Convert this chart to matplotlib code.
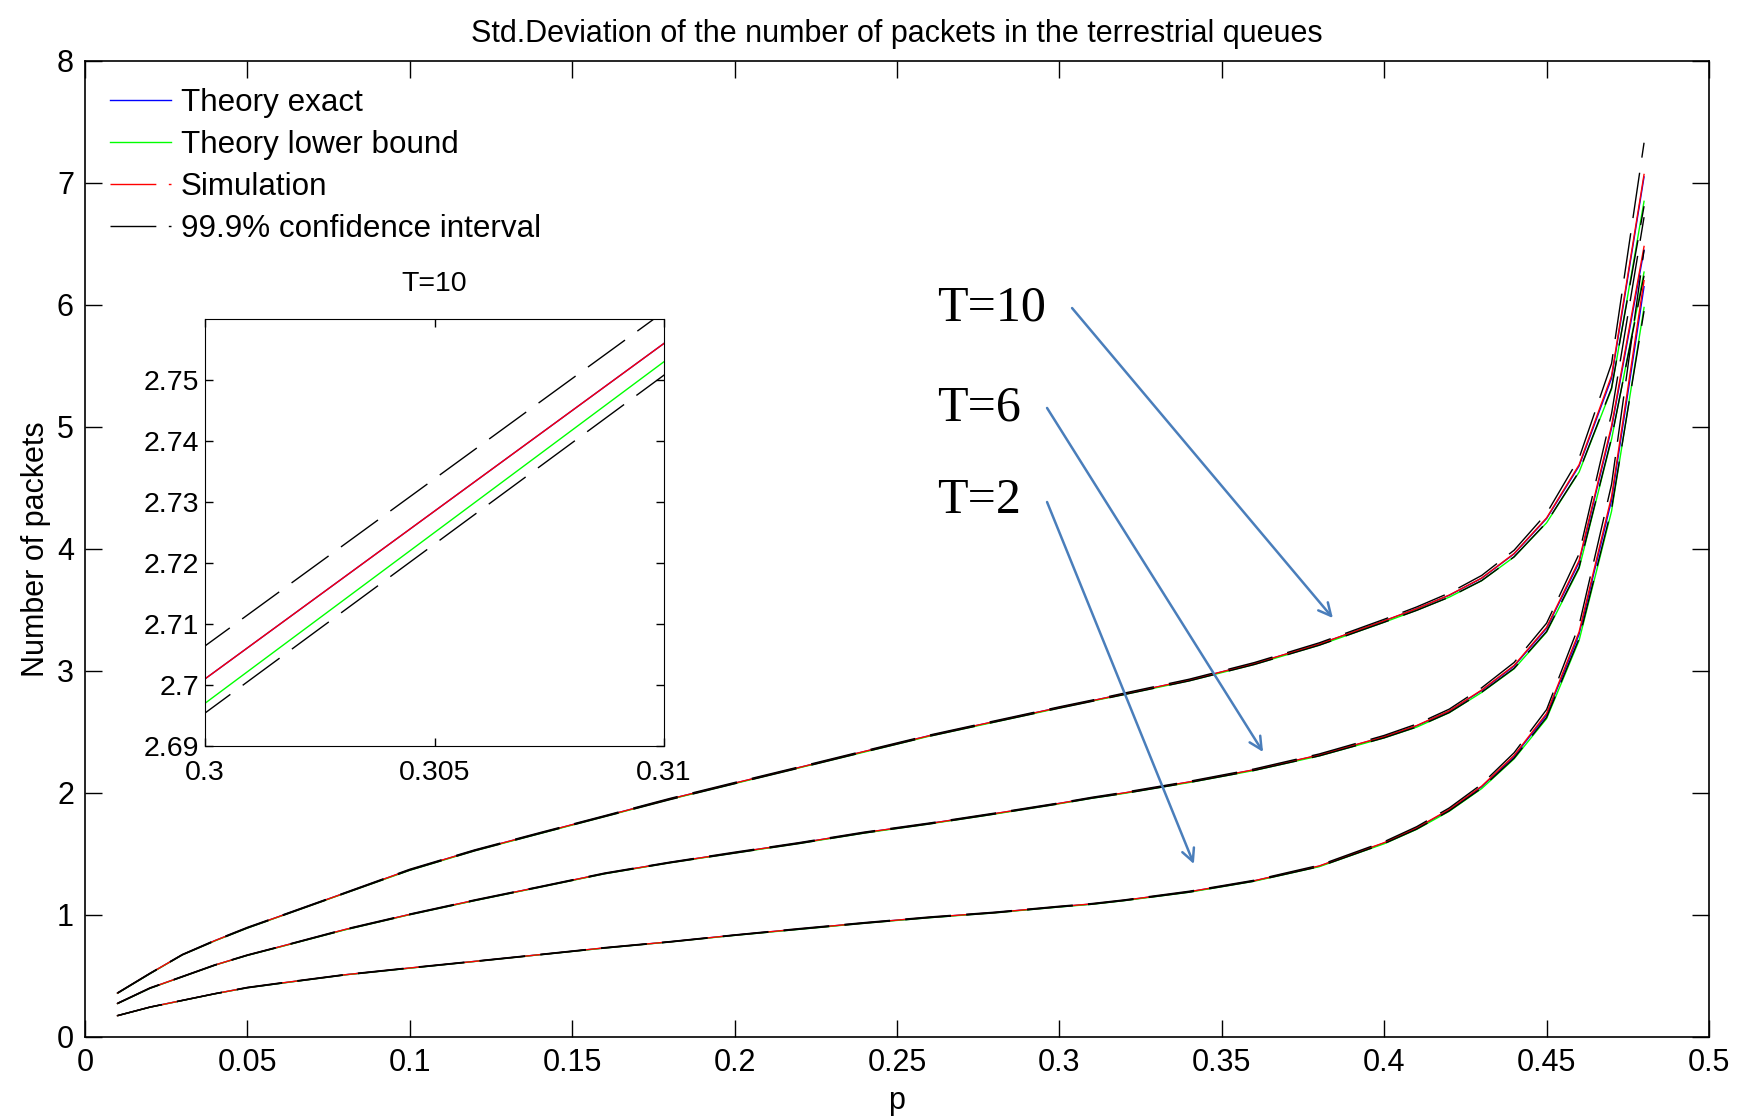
import matplotlib
matplotlib.use("Agg")
import matplotlib.pyplot as plt
from matplotlib.lines import Line2D

plt.rcParams['font.family'] = ['Liberation Sans', 'DejaVu Sans']
plt.rcParams['lines.scale_dashes'] = False

# === DATA ===
p = [0.01, 0.02, 0.03, 0.04, 0.05, 0.06, 0.08, 0.10, 0.12, 0.14, 0.16, 0.18,
     0.20, 0.22, 0.24, 0.26, 0.28, 0.30, 0.31, 0.32, 0.34, 0.36, 0.38, 0.40,
     0.41, 0.42, 0.43, 0.44, 0.45, 0.46, 0.47, 0.48]

# T=10
exact10 = [0.360, 0.520, 0.675, 0.790, 0.895, 0.990, 1.180, 1.370, 1.530, 1.670, 1.810, 1.950,
           2.080, 2.210, 2.340, 2.470, 2.585, 2.701, 2.756, 2.812, 2.925, 3.060, 3.220, 3.410,
           3.510, 3.620, 3.760, 3.960, 4.250, 4.680, 5.400, 7.050]
lower10 = [0.359, 0.519, 0.674, 0.788, 0.893, 0.988, 1.178, 1.367, 1.527, 1.667, 1.807, 1.947,
           2.077, 2.207, 2.336, 2.466, 2.581, 2.697, 2.753, 2.808, 2.920, 3.054, 3.212, 3.400,
           3.498, 3.605, 3.740, 3.935, 4.215, 4.630, 5.310, 6.850]
sim10 = [0.360, 0.521, 0.675, 0.790, 0.896, 0.990, 1.180, 1.371, 1.530, 1.671, 1.810, 1.950,
         2.081, 2.210, 2.341, 2.470, 2.586, 2.701, 2.756, 2.813, 2.926, 3.061, 3.221, 3.412,
         3.511, 3.622, 3.762, 3.963, 4.255, 4.690, 5.420, 7.070]
ci_hi10 = [0.362, 0.523, 0.677, 0.793, 0.899, 0.993, 1.183, 1.375, 1.534, 1.675, 1.814, 1.955,
           2.086, 2.215, 2.346, 2.475, 2.591, 2.7064, 2.7612, 2.819, 2.933, 3.069, 3.231, 3.424,
           3.525, 3.639, 3.783, 3.990, 4.292, 4.745, 5.520, 7.330]
ci_lo10 = [0.358, 0.519, 0.673, 0.787, 0.893, 0.987, 1.177, 1.367, 1.526, 1.667, 1.806, 1.945,
           2.076, 2.205, 2.336, 2.465, 2.581, 2.6954, 2.7508, 2.807, 2.919, 3.053, 3.211, 3.400,
           3.497, 3.605, 3.741, 3.936, 4.218, 4.635, 5.320, 6.810]

# T=6
exact6 = [0.275, 0.400, 0.495, 0.590, 0.670, 0.740, 0.880, 1.005, 1.120, 1.230, 1.340, 1.430,
          1.510, 1.590, 1.675, 1.750, 1.830, 1.915, 1.960, 2.000, 2.090, 2.190, 2.310, 2.460,
          2.550, 2.670, 2.840, 3.040, 3.350, 3.890, 4.990, 6.450]
lower6 = [0.274, 0.399, 0.494, 0.589, 0.669, 0.738, 0.878, 1.003, 1.118, 1.228, 1.338, 1.428,
          1.508, 1.587, 1.672, 1.747, 1.827, 1.912, 1.957, 1.997, 2.086, 2.185, 2.304, 2.452,
          2.540, 2.658, 2.824, 3.018, 3.318, 3.840, 4.900, 6.270]
sim6 = [0.275, 0.401, 0.495, 0.590, 0.671, 0.740, 0.881, 1.005, 1.121, 1.230, 1.341, 1.430,
        1.511, 1.590, 1.676, 1.750, 1.831, 1.915, 1.961, 2.001, 2.091, 2.191, 2.312, 2.462,
        2.553, 2.673, 2.844, 3.046, 3.358, 3.905, 5.010, 6.480]
ci_hi6 = [0.277, 0.403, 0.497, 0.592, 0.673, 0.742, 0.884, 1.008, 1.124, 1.233, 1.344, 1.433,
          1.515, 1.594, 1.680, 1.754, 1.835, 1.919, 1.965, 2.006, 2.096, 2.197, 2.320, 2.472,
          2.565, 2.687, 2.862, 3.070, 3.392, 3.960, 5.110, 6.720]
ci_lo6 = [0.273, 0.399, 0.493, 0.588, 0.669, 0.738, 0.878, 1.002, 1.118, 1.227, 1.338, 1.427,
          1.507, 1.586, 1.672, 1.746, 1.827, 1.911, 1.957, 1.996, 2.086, 2.185, 2.304, 2.452,
          2.541, 2.659, 2.826, 3.022, 3.324, 3.850, 4.910, 6.240]

# T=2
exact2 = [0.175, 0.245, 0.300, 0.355, 0.405, 0.440, 0.510, 0.565, 0.620, 0.675, 0.730, 0.780,
          0.835, 0.885, 0.935, 0.980, 1.020, 1.068, 1.090, 1.120, 1.190, 1.280, 1.400, 1.590,
          1.710, 1.860, 2.050, 2.300, 2.640, 3.300, 4.400, 6.150]
lower2 = [0.175, 0.244, 0.299, 0.354, 0.404, 0.439, 0.509, 0.564, 0.619, 0.674, 0.729, 0.779,
          0.833, 0.883, 0.933, 0.978, 1.018, 1.066, 1.088, 1.118, 1.187, 1.277, 1.396, 1.584,
          1.702, 1.850, 2.036, 2.280, 2.610, 3.250, 4.310, 5.980]
sim2 = [0.175, 0.245, 0.300, 0.355, 0.405, 0.441, 0.510, 0.566, 0.620, 0.675, 0.731, 0.780,
        0.835, 0.886, 0.935, 0.981, 1.020, 1.069, 1.091, 1.121, 1.191, 1.281, 1.402, 1.593,
        1.714, 1.865, 2.056, 2.308, 2.652, 3.320, 4.430, 6.200]
ci_hi2 = [0.176, 0.246, 0.301, 0.356, 0.407, 0.443, 0.512, 0.568, 0.622, 0.677, 0.733, 0.782,
          0.837, 0.889, 0.938, 0.984, 1.023, 1.072, 1.094, 1.124, 1.195, 1.285, 1.408, 1.601,
          1.724, 1.877, 2.072, 2.330, 2.684, 3.375, 4.530, 6.450]
ci_lo2 = [0.174, 0.244, 0.299, 0.354, 0.403, 0.439, 0.508, 0.564, 0.618, 0.673, 0.729, 0.778,
          0.833, 0.883, 0.932, 0.978, 1.017, 1.066, 1.088, 1.118, 1.187, 1.277, 1.396, 1.585,
          1.704, 1.853, 2.040, 2.286, 2.620, 3.265, 4.330, 5.950]

curves = {
    "T=10": (exact10, lower10, sim10, ci_lo10, ci_hi10),
    "T=6": (exact6, lower6, sim6, ci_lo6, ci_hi6),
    "T=2": (exact2, lower2, sim2, ci_lo2, ci_hi2),
}

x_ticks = [0, 0.05, 0.1, 0.15, 0.2, 0.25, 0.3, 0.35, 0.4, 0.45, 0.5]
x_ticklabels = ["0", "0.05", "0.1", "0.15", "0.2", "0.25", "0.3", "0.35", "0.4", "0.45", "0.5"]
y_ticks = [0, 1, 2, 3, 4, 5, 6, 7, 8]
inset_xticks = [0.3, 0.305, 0.31]
inset_xticklabels = ["0.3", "0.305", "0.31"]
inset_yticks = [2.69, 2.70, 2.71, 2.72, 2.73, 2.74, 2.75]
inset_yticklabels = ["2.69", "2.7", "2.71", "2.72", "2.73", "2.74", "2.75"]

# labels for the T curves: (text, text pos, arrow start, arrow tip)
labels = [("T=10", (0.2623, 5.975), (0.3039, 5.975), (0.3842, 3.434)),
          ("T=6", (0.2623, 5.156), (0.2962, 5.156), (0.3627, 2.336)),
          ("T=2", (0.2623, 4.393), (0.2962, 4.385), (0.3414, 1.418))]

BLUE, GREEN, RED = (0, 0, 1), (0, 1, 0), (1, 0, 0)
DASH = (33, 11)
LW = 1.0
FS = 22


def draw(a, lw=LW):
    for exact, lower, sim, lo, hi in curves.values():
        a.plot(p, exact, color=BLUE, lw=lw)
        a.plot(p, lower, color=GREEN, lw=lw)
        a.plot(p, sim, color=RED, lw=lw)
        a.plot(p, lo, color="black", lw=lw, dashes=DASH)
        a.plot(p, hi, color="black", lw=lw, dashes=DASH)


fig = plt.figure(figsize=(17.42, 11.18), dpi=100)
ax = fig.add_axes([85 / 1742, 81 / 1118, 1624 / 1742, 976 / 1118])
draw(ax)
ax.set_xlim(0, 0.5)
ax.set_ylim(0, 8)
ax.set_xticks(x_ticks)
ax.set_xticklabels(x_ticklabels)
ax.set_yticks(y_ticks)
ax.tick_params(direction="in", length=12, width=1, top=True, right=True,
               labelsize=FS, pad=8)
for s in ax.spines.values():
    s.set_linewidth(1.2)
ax.set_title("Std.Deviation of the number of packets in the terrestrial queues",
             fontsize=FS, pad=14)
ax.set_xlabel("p", fontsize=FS, labelpad=6)
ax.set_ylabel("Number of packets", fontsize=FS, labelpad=4)

handles = [Line2D([], [], color=BLUE, lw=LW),
           Line2D([], [], color=GREEN, lw=LW),
           Line2D([], [], color=RED, lw=LW, dashes=(33, 9)),
           Line2D([], [], color="black", lw=LW, dashes=(33, 9))]
ax.legend(handles, ["Theory exact", "Theory lower bound", "Simulation",
                    "99.9% confidence interval"],
          loc="upper left", frameon=False, fontsize=22.6, handlelength=1.95,
          handletextpad=0.3, labelspacing=0.38, borderaxespad=0.3,
          bbox_to_anchor=(0.002, 0.995))

for txt, tpos, start, tip in labels:
    ax.text(tpos[0], tpos[1], txt, family=["Liberation Serif", "DejaVu Serif"],
            fontsize=36, va="center", ha="left")
    ax.annotate("", xy=tip, xytext=start,
                arrowprops=dict(arrowstyle="->,head_length=0.9,head_width=0.45",
                                color="#4A7EBB", lw=1.8, shrinkA=0, shrinkB=0))

# inset zoom
ins = fig.add_axes([205 / 1742, (1118 - 746) / 1118, 459 / 1742, 427 / 1118])
draw(ins)
ins.set_xlim(0.3, 0.31)
ins.set_ylim(2.69, 2.76)
ins.set_xticks(inset_xticks)
ins.set_xticklabels(inset_xticklabels)
ins.set_yticks(inset_yticks)
ins.set_yticklabels(inset_yticklabels)
ins.tick_params(direction="in", length=6, width=1, top=True, right=True,
                labelsize=20.5, pad=4)
ins.tick_params(axis="x", pad=10)
ins.set_title("T=10", fontsize=20.5, pad=20)

fig.savefig("out.png", dpi=100)
